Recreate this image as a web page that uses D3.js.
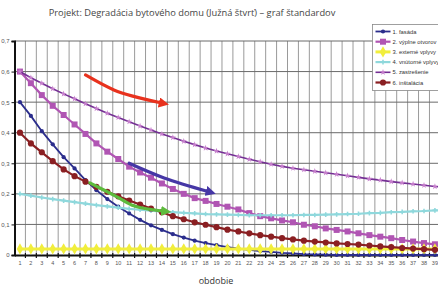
<!DOCTYPE html>
<html>
<head>
<meta charset="utf-8">
<script src="https://cdnjs.cloudflare.com/ajax/libs/d3/7.8.5/d3.min.js"></script>
<style>
  body { margin: 0; background: #fff; }
  svg { display: block; font-family: "Open Sans", sans-serif; }
</style>
</head>
<body>
<svg id="chart"></svg>
<script>
var width = 438;
var height = 292;

// categories (obdobie)
var periods = [1, 2, 3, 4, 5, 6, 7, 8, 9, 10, 11, 12, 13, 14, 15, 16, 17, 18, 19, 20,
    21, 22, 23, 24, 25, 26, 27, 28, 29, 30, 31, 32, 33, 34, 35, 36, 37, 38, 39, 40];
// the picture is cut after 39
var periodLabels = [1, 2, 3, 4, 5, 6, 7, 8, 9, 10, 11, 12, 13, 14, 15, 16, 17, 18, 19, 20,
    21, 22, 23, 24, 25, 26, 27, 28, 29, 30, 31, 32, 33, 34, 35, 36, 37, 38, 39];

var yTicks = [0, 0.1, 0.2, 0.3, 0.4, 0.5, 0.6, 0.7];
var yTickLabels = ["0", "0,1", "0,2", "0,3", "0,4", "0,5", "0,6", "0,7"];

// series values
var fasada = [0.500, 0.455, 0.405, 0.362, 0.320, 0.283, 0.245, 0.212, 0.183, 0.158,
    0.136, 0.115, 0.097, 0.082, 0.068, 0.057, 0.047, 0.039, 0.032, 0.026,
    0.021, 0.017, 0.013, 0.010, 0.007, 0.005, 0.003, 0.002, 0.001, 0.000,
    0.000, 0.000, 0.000, 0.000, 0.000, 0.000, 0.000, 0.000, 0.000, 0.000];
var vyplne = [0.600, 0.562, 0.523, 0.488, 0.458, 0.427, 0.396, 0.365, 0.338, 0.314,
    0.289, 0.270, 0.253, 0.234, 0.216, 0.200, 0.186, 0.177, 0.167, 0.158,
    0.149, 0.137, 0.127, 0.120, 0.113, 0.107, 0.099, 0.094, 0.087, 0.082,
    0.077, 0.071, 0.065, 0.060, 0.055, 0.049, 0.044, 0.039, 0.035, 0.032];
var externe = [0.02, 0.02, 0.02, 0.02, 0.02, 0.02, 0.02, 0.02, 0.02, 0.02,
    0.02, 0.02, 0.02, 0.02, 0.02, 0.02, 0.02, 0.02, 0.02, 0.02,
    0.02, 0.02, 0.02, 0.02, 0.02, 0.02, 0.02, 0.02, 0.02, 0.02,
    0.02, 0.02, 0.02, 0.02, 0.02, 0.02, 0.02, 0.02, 0.02, 0.02];
var vnutorne = [0.200, 0.194, 0.188, 0.183, 0.178, 0.173, 0.168, 0.163, 0.159, 0.155,
    0.151, 0.148, 0.145, 0.142, 0.140, 0.138, 0.136, 0.134, 0.133, 0.132,
    0.131, 0.130, 0.130, 0.130, 0.130, 0.130, 0.131, 0.131, 0.132, 0.133,
    0.134, 0.135, 0.137, 0.138, 0.140, 0.141, 0.143, 0.144, 0.146, 0.147];
var zastresenie = [0.600, 0.580, 0.562, 0.544, 0.527, 0.511, 0.495, 0.479, 0.464, 0.450,
    0.436, 0.422, 0.409, 0.396, 0.384, 0.372, 0.361, 0.350, 0.340, 0.331,
    0.322, 0.313, 0.305, 0.297, 0.290, 0.284, 0.279, 0.274, 0.269, 0.264,
    0.259, 0.254, 0.249, 0.245, 0.240, 0.236, 0.232, 0.228, 0.224, 0.221];
var instalacia = [0.400, 0.365, 0.336, 0.307, 0.280, 0.258, 0.240, 0.223, 0.207, 0.192,
    0.178, 0.165, 0.152, 0.140, 0.127, 0.117, 0.107, 0.099, 0.091, 0.083,
    0.077, 0.071, 0.065, 0.060, 0.055, 0.051, 0.047, 0.044, 0.041, 0.038,
    0.036, 0.034, 0.031, 0.028, 0.026, 0.023, 0.021, 0.019, 0.017, 0.015];

var seriesNames = ["1. fasáda", "2. výplne otvorov", "3. externé vplyvy",
    "4. vnútorné vplyvy", "5. zastrešenie", "6. inštalácia"];

// hand drawn arrows, as [period, value] points
var redArrow = [[7.0, 0.589], [9.6, 0.540], [11.5, 0.518], [14.0, 0.497]];
var blueArrow = [[11.0, 0.300], [14.2, 0.252], [18.3, 0.207]];
var greenArrow = [[7.4, 0.236], [9.8, 0.192], [11.5, 0.160], [14.2, 0.143]];

var series = [
    { name: seriesNames[0], values: fasada, color: "#2b2d8c", width: 1.8, symbol: d3.symbolCircle, size: 14, fill: "#2b2d8c" },
    { name: seriesNames[1], values: vyplne, color: "#b055b3", width: 2.2, symbol: d3.symbolSquare, size: 36, fill: "#b055b3" },
    { name: seriesNames[2], values: externe, color: "#f1ee3c", width: 3, symbol: d3.symbolDiamond, size: 36, fill: "#f1ee3c" },
    { name: seriesNames[3], values: vnutorne, color: "#8fd8dc", width: 2.2, symbol: d3.symbolCross, size: 12, fill: "#8fd8dc" },
    { name: seriesNames[4], values: zastresenie, color: "#742f94", width: 1.6, symbol: d3.symbolStar, size: 12, fill: "#c67fcc" },
    { name: seriesNames[5], values: instalacia, color: "#8a1f22", width: 2.2, symbol: d3.symbolCircle, size: 30, fill: "#8a1f22" }
];

var margin = { left: 14.5, top: 41, bottom: 255 };
var band = 10.92;

var x = d3.scaleBand()
    .domain(periods)
    .range([margin.left, margin.left + band * periods.length]);
var xc = function (p) { return x(p) + x.bandwidth() / 2; };
var xv = function (p) { return margin.left + band * (p - 0.5); }; // fractional period
var y = d3.scaleLinear().domain([0, 0.7]).range([margin.bottom, margin.top]);

var svg = d3.select("#chart").attr("width", width).attr("height", height);

// title
svg.append("text")
    .attr("x", 192).attr("y", 16)
    .attr("text-anchor", "middle")
    .style("font-size", "9.3px")
    .style("fill", "#454545")
    .text("Projekt: Degradácia bytového domu (Južná štvrť) – graf štandardov");

// grid
var grid = svg.append("g");
grid.selectAll("line.v")
    .data(periods)
    .enter().append("line")
    .attr("class", "v")
    .attr("x1", function (d) { return x(d) + x.bandwidth(); })
    .attr("x2", function (d) { return x(d) + x.bandwidth(); })
    .attr("y1", y(0.7)).attr("y2", y(0))
    .attr("stroke", "#9a9a9a")
    .attr("stroke-width", 1);
grid.selectAll("line.h")
    .data(yTicks.slice(1))
    .enter().append("line")
    .attr("class", "h")
    .attr("x1", margin.left).attr("x2", width)
    .attr("y1", function (d) { return y(d); })
    .attr("y2", function (d) { return y(d); })
    .attr("stroke", "#6a6a6a")
    .attr("stroke-width", 1);

// axes
var yAxis = d3.axisLeft(y)
    .tickValues(yTicks)
    .tickFormat(function (d, i) { return yTickLabels[i]; })
    .tickSize(3)
    .tickPadding(2);
var gy = svg.append("g").attr("transform", "translate(" + margin.left + ",0)").call(yAxis);
gy.select(".domain").attr("stroke", "#111").attr("stroke-width", 2);
gy.selectAll(".tick line").attr("stroke", "#111");
gy.selectAll("text").style("font-size", "6px").style("fill", "#555").style("font-family", "Liberation Sans, Arial, sans-serif");

var xAxis = d3.axisBottom(x).tickValues(periodLabels).tickSize(0).tickPadding(6);
var gx = svg.append("g").attr("transform", "translate(0," + margin.bottom + ")").call(xAxis);
gx.select(".domain").attr("stroke", "#111").attr("stroke-width", 2);
gx.selectAll("text").style("font-size", "5.5px").style("fill", "#555").style("font-family", "Liberation Sans, Arial, sans-serif");
gx.selectAll("line.bt")
    .data(periods)
    .enter().append("line")
    .attr("class", "bt")
    .attr("x1", function (d) { return x(d) + x.bandwidth(); })
    .attr("x2", function (d) { return x(d) + x.bandwidth(); })
    .attr("y1", -2).attr("y2", 3)
    .attr("stroke", "#111").attr("stroke-width", 1.2);

svg.append("text")
    .attr("x", 216).attr("y", 284)
    .attr("text-anchor", "middle")
    .style("font-size", "9px")
    .style("fill", "#333")
    .text("obdobie");

// series
var line = d3.line()
    .x(function (d) { return xc(d.p); })
    .y(function (d) { return y(d.v); });

var plot = svg.append("g");
series.forEach(function (s) {
    var pts = periods.map(function (p, i) { return { p: p, v: s.values[i] }; });
    var g = plot.append("g");
    g.append("path")
        .datum(pts)
        .attr("d", line)
        .attr("fill", "none")
        .attr("stroke", s.color)
        .attr("stroke-width", s.width);
    g.selectAll("path.m")
        .data(pts)
        .enter().append("path")
        .attr("class", "m")
        .attr("d", d3.symbol().type(s.symbol).size(s.size))
        .attr("transform", function (d) { return "translate(" + xc(d.p) + "," + y(d.v) + ")"; })
        .attr("fill", s.fill);
});

// arrows
var defs = svg.append("defs");
function arrowHead(id, color) {
    defs.append("marker")
        .attr("id", id)
        .attr("viewBox", "0 0 10 10")
        .attr("refX", 3).attr("refY", 5)
        .attr("markerWidth", 3.2).attr("markerHeight", 3.2)
        .attr("orient", "auto")
        .append("path")
        .attr("d", "M0,0 L10,5 L0,10 Z")
        .attr("fill", color);
}
arrowHead("ah-red", "#e8321e");
arrowHead("ah-blue", "#4637a6");
arrowHead("ah-green", "#5dbb3c");

var arrowLine = d3.line()
    .x(function (d) { return xv(d[0]); })
    .y(function (d) { return y(d[1]); })
    .curve(d3.curveCatmullRom);

[[redArrow, "#e8321e", "ah-red"], [blueArrow, "#4637a6", "ah-blue"], [greenArrow, "#5dbb3c", "ah-green"]]
    .forEach(function (a) {
        svg.append("path")
            .datum(a[0])
            .attr("d", arrowLine)
            .attr("fill", "none")
            .attr("stroke", a[1])
            .attr("stroke-width", 3.2)
            .attr("stroke-linecap", "round")
            .attr("marker-end", "url(#" + a[2] + ")");
    });

// legend
var legend = svg.append("g").attr("transform", "translate(372.5,24.5)");
legend.append("rect")
    .attr("width", 80).attr("height", 66)
    .attr("fill", "#fff")
    .attr("stroke", "#888")
    .attr("stroke-width", 0.8);
var item = legend.selectAll("g.item")
    .data(series)
    .enter().append("g")
    .attr("class", "item")
    .attr("transform", function (d, i) { return "translate(0," + (7 + i * 10.2) + ")"; });
item.append("line")
    .attr("x1", 3).attr("x2", 18)
    .attr("stroke", function (d) { return d.color; })
    .attr("stroke-width", function (d) { return d.width; });
item.append("path")
    .attr("d", function (d) { return d3.symbol().type(d.symbol).size(d.size)(); })
    .attr("transform", "translate(10.5,0)")
    .attr("fill", function (d) { return d.fill; });
item.append("text")
    .attr("x", 20).attr("y", 2)
    .style("font-size", "5.8px")
    .style("fill", "#333")
    .style("font-family", "Liberation Sans, Arial, sans-serif")
    .text(function (d) { return d.name; });
</script>
</body>
</html>
